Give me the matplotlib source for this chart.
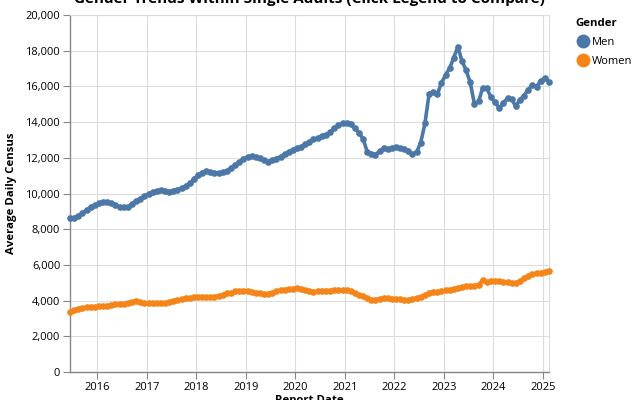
#!/usr/bin/env python3

import numpy as np
import pandas as pd
import matplotlib
matplotlib.use("Agg")
from matplotlib import pyplot as plt
from matplotlib.lines import Line2D

plt.rcParams['font.family'] = ['Open Sans', 'DejaVu Sans']

# monthly report dates, Jun 2015 .. Feb 2025
report_dates = pd.date_range("2015-06-01", "2025-02-01", freq="MS") + pd.Timedelta(days=14)

men = [
	8600, 8650, 8720, 8900, 9080, 9230, 9330, 9470, 9530, 9500, 9440, 9360,
	9260, 9230, 9260, 9430, 9580, 9700, 9850, 9990, 10070, 10140, 10200, 10160,
	10110, 10150, 10220, 10290, 10400, 10590, 10800, 11040, 11170, 11250, 11210, 11160,
	11140, 11180, 11260, 11430, 11600, 11740, 11920, 12060, 12090, 12060, 11980, 11860,
	11790, 11860, 11960, 12060, 12200, 12340, 12460, 12540, 12610, 12750, 12890, 13030,
	13120, 13220, 13300, 13440, 13670, 13830, 13930, 13930, 13920, 13650, 13400, 13080,
	12340, 12240, 12180, 12370, 12530, 12490, 12570, 12600, 12540, 12510, 12360, 12200,
	12330, 12850, 13930, 15600, 15680, 15570, 16200, 16650, 17050, 17600, 18220, 17420,
	16900, 16220, 15010, 15160, 15920, 15900, 15380, 15100, 14780, 15080, 15340, 15300,
	14880, 15260, 15480, 15820, 16080, 15980, 16320, 16450, 16260,
]

women = [
	3380, 3480, 3550, 3590, 3620, 3640, 3655, 3670, 3695, 3715, 3750, 3785,
	3810, 3835, 3870, 3940, 3960, 3900, 3870, 3850, 3850, 3850, 3855, 3870,
	3900, 3980, 4040, 4090, 4140, 4160, 4175, 4200, 4215, 4200, 4185, 4220,
	4260, 4330, 4420, 4440, 4520, 4530, 4535, 4540, 4500, 4450, 4400, 4350,
	4390, 4440, 4520, 4590, 4620, 4650, 4670, 4690, 4640, 4590, 4550, 4500,
	4530, 4560, 4560, 4560, 4575, 4590, 4590, 4590, 4520, 4430, 4330, 4240,
	4140, 4050, 4060, 4100, 4160, 4120, 4100, 4070, 4080, 4050, 4040, 4090,
	4140, 4210, 4300, 4450, 4500, 4500, 4530, 4570, 4620, 4670, 4710, 4760,
	4790, 4810, 4840, 4900, 5150, 5070, 5080, 5100, 5080, 5060, 5020, 4980,
	5000, 5080, 5260, 5400, 5480, 5520, 5560, 5600, 5660,
]

genders = ["Men", "Women"]
colors = ["#4c78a8", "#f58518"]
year_ticks = [str(y) for y in range(2016, 2026)]

fig = plt.figure(figsize=(6.4, 4.0), dpi=100)
ax = fig.add_axes([70 / 640, 1 - 372 / 400, 479 / 640, 357 / 400])

for name, vals, c in zip(genders, [men, women], colors):
	ax.plot(report_dates, vals, color=c, lw=2.6, marker="o", ms=4.8,
			markeredgewidth=0, solid_capstyle="round", clip_on=False, zorder=3)

ax.set_xlim(report_dates[0], report_dates[-1])
ax.set_ylim(0, 20000)
ax.set_yticks(range(0, 20001, 2000))
ax.set_yticklabels(["{:,}".format(v) for v in range(0, 20001, 2000)])
ax.set_xticks(pd.to_datetime([y + "-01-01" for y in year_ticks]))
ax.set_xticklabels(year_ticks)

ax.grid(True, color="#dddddd", lw=0.8, zorder=0)
ax.set_axisbelow(True)
for s in ["top", "right"]:
	ax.spines[s].set_color("#dddddd")
	ax.spines[s].set_linewidth(0.8)
for s in ["left", "bottom"]:
	ax.spines[s].set_color("#888888")
	ax.spines[s].set_linewidth(1.0)
ax.tick_params(colors="#888888", labelcolor="black", labelsize=8, length=5, width=0.8, pad=2)

ax.set_ylabel("Average Daily Census", fontsize=8.2, fontweight="bold", labelpad=6)
fig.text(309.5 / 640, 1 - 395 / 400, "Report Date", ha="center", va="top",
		fontsize=8.2, fontweight="bold")
fig.text(309.5 / 640, 1 - 3 / 400, "Gender Trends Within Single Adults (Click Legend to Compare)",
		ha="center", va="baseline", fontsize=11, fontweight="bold")

handles = [Line2D([], [], ls="none", marker="o", ms=10, color=c, markeredgewidth=0) for c in colors]
leg = fig.legend(handles, genders, title="Gender", loc="upper left",
				bbox_to_anchor=(570 / 640, 1 - 12 / 400), frameon=False,
				fontsize=8, handletextpad=0.15, labelspacing=0.75, borderpad=0,
				handlelength=1.3, alignment="left")
leg.get_title().set_fontweight("bold")
leg.get_title().set_fontsize(8.2)

plt.savefig("out.png", dpi=100)
plt.close()
